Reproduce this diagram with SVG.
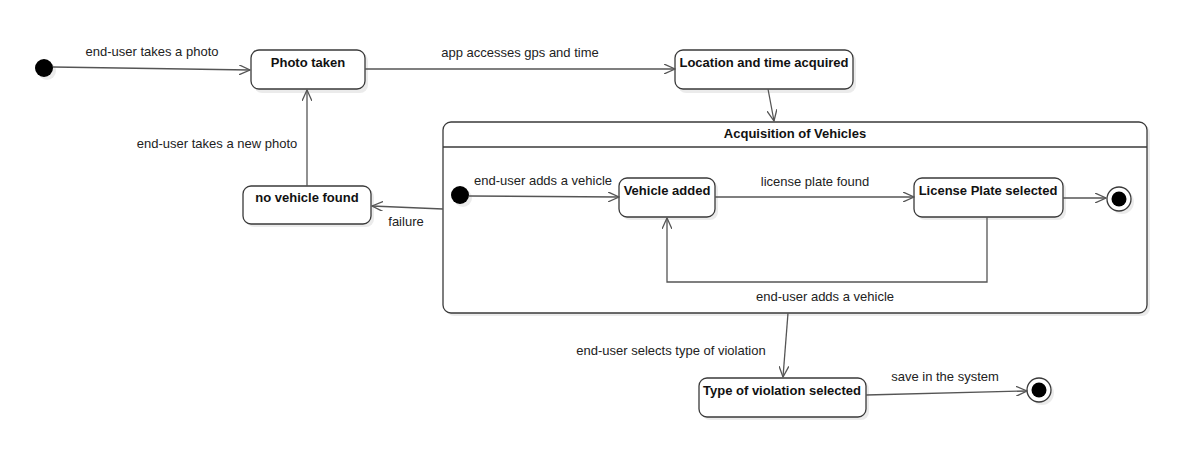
<svg xmlns="http://www.w3.org/2000/svg" width="1201" height="455" viewBox="0 0 1201 455">
<style>
.st{fill:#fff;stroke:#3a3a3a;stroke-width:1.3}
.sh{fill:#000;opacity:0.08}
.t{font-family:"Liberation Sans",Arial,sans-serif;font-size:13px;fill:#222}
.b{font-family:"Liberation Sans",Arial,sans-serif;font-size:13px;font-weight:bold;fill:#111;text-anchor:middle}
.e{fill:none;stroke:#555;stroke-width:1.3;marker-end:url(#ah)}
.m{text-anchor:middle}
</style>
<defs>
<marker id="ah" viewBox="0 0 12 10" refX="11" refY="5" markerWidth="12" markerHeight="10" markerUnits="userSpaceOnUse" orient="auto">
<path d="M0,0 L11,5 L0,10" fill="none" stroke="#555" stroke-width="1.3"/>
</marker>
</defs>
<rect width="1201" height="455" fill="#fff"/>

<g id="start1">
<circle cx="47" cy="71" r="9" class="sh"/>
<circle cx="44" cy="68" r="9" fill="#000"/>
</g>
<g id="photo-taken">
<rect x="254" y="53" width="114" height="40" rx="8" class="sh"/>
<rect x="251" y="50" width="114" height="39" rx="8" class="st"/>
<text x="308" y="67" class="b">Photo taken</text>
</g>
<g id="location">
<rect x="678" y="53" width="178" height="40" rx="8" class="sh"/>
<rect x="675" y="50" width="178" height="39" rx="8" class="st"/>
<text x="764" y="67" class="b">Location and time acquired</text>
</g>
<g id="acquisition">
<rect x="446" y="125" width="704" height="191" rx="8" class="sh"/>
<rect x="443" y="122" width="704" height="191" rx="8" class="st"/>
<line x1="443" y1="147" x2="1147" y2="147" stroke="#3a3a3a" stroke-width="1.3"/>
<text x="795" y="138" class="b">Acquisition of Vehicles</text>
</g>
<g id="start2">
<circle cx="463" cy="198" r="9" class="sh"/>
<circle cx="460" cy="195" r="9" fill="#000"/>
</g>
<g id="vehicle-added">
<rect x="622" y="181" width="96" height="39" rx="8" class="sh"/>
<rect x="619" y="178" width="96" height="39" rx="8" class="st"/>
<text x="667" y="195" class="b">Vehicle added</text>
</g>
<g id="license-plate">
<rect x="917" y="181" width="149" height="39" rx="8" class="sh"/>
<rect x="914" y="178" width="149" height="39" rx="8" class="st"/>
<text x="988" y="195" class="b">License Plate selected</text>
</g>
<g id="end1">
<circle cx="1122" cy="202" r="12" class="sh"/>
<circle cx="1119" cy="199" r="12" class="st"/>
<circle cx="1119" cy="199" r="7.5" fill="#000"/>
</g>
<g id="no-vehicle">
<rect x="246" y="189" width="128" height="38" rx="8" class="sh"/>
<rect x="243" y="186" width="128" height="38" rx="8" class="st"/>
<text x="307" y="202" class="b">no vehicle found</text>
</g>
<g id="type-violation">
<rect x="702" y="381" width="167" height="39" rx="8" class="sh"/>
<rect x="699" y="378" width="167" height="39" rx="8" class="st"/>
<text x="782" y="395" class="b">Type of violation selected</text>
</g>
<g id="end2">
<circle cx="1042" cy="393" r="12" class="sh"/>
<circle cx="1039" cy="390" r="12" class="st"/>
<circle cx="1039" cy="390" r="7.5" fill="#000"/>
</g>

<g id="connectors">
<path class="e" d="M53,67 L250,70"/>
<path class="e" d="M365,69 L675,69"/>
<path class="e" d="M768,89 L774,121"/>
<path class="e" d="M469,196 L619,197"/>
<path class="e" d="M715,197 L914,197"/>
<path class="e" d="M1063,198 L1106,198"/>
<path class="e" d="M987,217 L987,282 L667,282 L667,218"/>
<path class="e" d="M443,209 L372,206"/>
<path class="e" d="M307,186 L307,90"/>
<path class="e" d="M788,313 L783,377"/>
<path class="e" d="M866,395 L1027,391"/>
</g>

<g id="labels">
<text x="152" y="56" class="t m">end-user takes a photo</text>
<text x="520" y="57" class="t m">app accesses gps and time</text>
<text x="543" y="185" class="t m">end-user adds a vehicle</text>
<text x="815" y="186" class="t m">license plate found</text>
<text x="825" y="301" class="t m">end-user adds a vehicle</text>
<text x="406" y="226" class="t m">failure</text>
<text x="217" y="148" class="t m">end-user takes a new photo</text>
<text x="671" y="355" class="t m">end-user selects type of violation</text>
<text x="945" y="381" class="t m">save in the system</text>
</g>
</svg>
